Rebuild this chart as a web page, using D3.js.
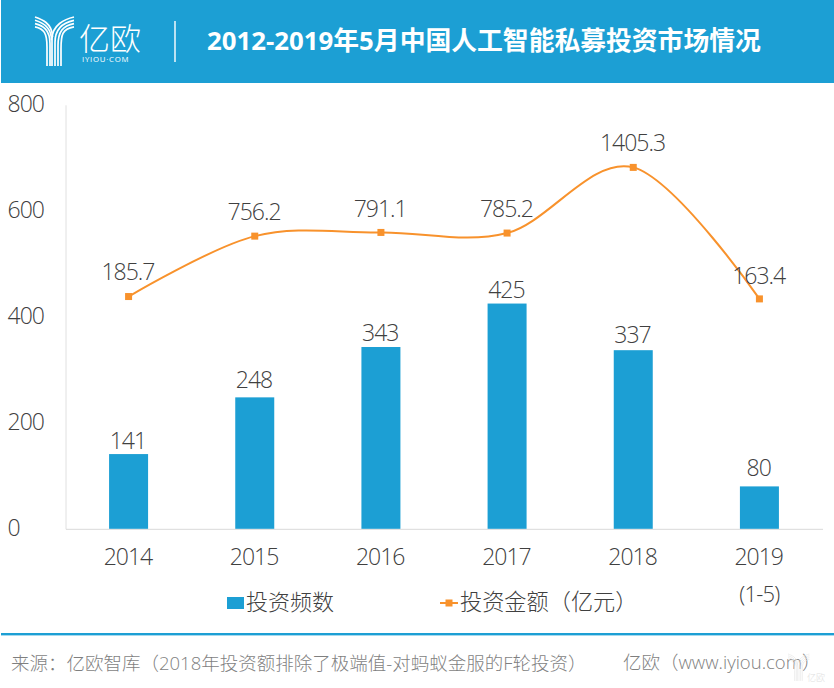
<!DOCTYPE html>
<html><head><meta charset="utf-8">
<script src="https://cdn.jsdelivr.net/npm/d3@7/dist/d3.min.js"></script>
<style>
html,body{margin:0;padding:0;background:#fff}
svg{display:block}
text{font-family:"Open Sans","Noto Sans CJK SC",sans-serif;font-weight:300;fill:#404040}
</style></head><body>
<svg id="c" width="834" height="688"></svg>
<script>
const categories=["2014","2015","2016","2017","2018","2019"];
const freqValues=[141,248,343,425,337,80];
const amountValues=[185.7,756.2,791.1,785.2,1405.3,163.4];
const yTicks=[0,200,400,600,800];
const titleText="2012-2019年5月中国人工智能私募投资市场情况";
const legendBar="投资频数";
const legendLine="投资金额（亿元）";
const sourceText="来源：亿欧智库（2018年投资额排除了极端值-对蚂蚁金服的F轮投资）";
const siteText="亿欧（www.iyiou.com）";
const BLUE="#1c9fd4",ORANGE="#f8922c";
const svg=d3.select("#c");

function yLogo(g,sx,ox,oy,color,w){
  const l=g.append("g").attr("fill","none").attr("stroke",color).attr("stroke-width",w)
    .attr("transform",`translate(${ox},${oy}) scale(${sx})`);
  const tops=[0,3.3,6.6,9.9], rightV=[17,20,23,26], leftV=[17.5,16.5,15,12];
  tops.forEach((t,i)=>{
    l.append("path").attr("d",`M39 ${t} C${30-i} ${t+2} ${rightV[i]} ${t+8} ${rightV[i]} ${t+22} L${rightV[i]} 49`);
    l.append("path").attr("d",`M0 ${t} C${6+i} ${t+2} ${leftV[i]} ${t+6} ${leftV[i]} ${t+20}`+(i>1?` L${leftV[i]} 49`:""));
  });
}

// header
svg.append("rect").attr("x",1).attr("y",0).attr("width",833).attr("height",83).attr("fill",BLUE);
yLogo(svg,1,35,17,"#fff",1.7);
svg.append("text").attr("x",79).attr("y",50).attr("font-size",31).style("fill","#fff").text("亿欧");
svg.append("text").attr("x",82).attr("y",62).attr("font-size",7.8).attr("letter-spacing",0.75).style("fill","#fff").style("font-weight",400).text("IYIOU·COM");
svg.append("line").attr("x1",175).attr("x2",175).attr("y1",21).attr("y2",62).attr("stroke","#fff").attr("stroke-width",1.4);
svg.append("text").attr("x",207).attr("y",49.5).attr("font-size",25.8).style("fill","#fff").style("font-weight",700).text(titleText);

// scales
const x=d3.scaleBand().domain(categories).range([65.5,822.5]);
const y=d3.scaleLinear().domain([0,800]).range([528.8,104.8]);
const y2=d3.scaleLinear().domain([0,1405.3]).range([316.2,167.4]);
const cx=c=>x(c)+x.bandwidth()/2;
const numStyle=s=>s.attr("font-size",23).attr("letter-spacing",-1);

// axes
const gy=svg.append("g").attr("transform","translate(65.5,0)").call(d3.axisLeft(y).tickValues(yTicks).tickSize(0));
gy.select(".domain").attr("stroke","#e0e0e0");
gy.selectAll("text").call(numStyle).attr("text-anchor","start").attr("x",-58).attr("dy","0.28em");
const gx=svg.append("g").attr("transform","translate(0,528.8)").call(d3.axisBottom(x).tickSize(0).tickPadding(20));
gx.select(".domain").attr("stroke","#d9d9d9");
gx.selectAll("text").call(numStyle).attr("dy","0.71em").attr("x",-0.7);
svg.append("text").attr("x",cx("2019")).attr("y",602).attr("text-anchor","middle").attr("font-size",22).attr("letter-spacing",-0.8).text("(1-5)");

// bars
const bw=39;
svg.append("g").selectAll("rect").data(categories).join("rect")
  .attr("x",c=>cx(c)-bw/2).attr("width",bw)
  .attr("y",(c,i)=>y(freqValues[i])).attr("height",(c,i)=>y(0)-y(freqValues[i])).attr("fill",BLUE);
const barGap=[5,9,6,6,7,10];
svg.append("g").selectAll("text").data(categories).join("text")
  .attr("x",c=>cx(c)-0.7).attr("y",(c,i)=>y(freqValues[i])-barGap[i]).attr("text-anchor","middle").call(numStyle)
  .text((c,i)=>freqValues[i]);

// line
const line=d3.line().x(d=>cx(d[0])).y(d=>y2(d[1])).curve(d3.curveCatmullRom.alpha(0));
svg.append("path").attr("d",line(categories.map((c,i)=>[c,amountValues[i]]))).attr("fill","none").attr("stroke",ORANGE).attr("stroke-width",2);
svg.append("g").selectAll("rect").data(categories).join("rect")
  .attr("x",c=>cx(c)-3.5).attr("width",7).attr("height",7)
  .attr("y",(c,i)=>y2(amountValues[i])-3.5).attr("fill",ORANGE);
const lineGap=[17,16,15,16,16,15];
svg.append("g").selectAll("text").data(categories).join("text")
  .attr("x",c=>cx(c)-0.7).attr("y",(c,i)=>y2(amountValues[i])-lineGap[i]).attr("text-anchor","middle").call(numStyle)
  .text((c,i)=>amountValues[i].toFixed(1));

// legend
svg.append("rect").attr("x",227).attr("y",597).attr("width",17).attr("height",12).attr("fill",BLUE);
svg.append("text").attr("x",246).attr("y",610).attr("font-size",22).text(legendBar);
svg.append("line").attr("x1",440).attr("x2",458).attr("y1",603).attr("y2",603).attr("stroke",ORANGE).attr("stroke-width",2);
svg.append("rect").attr("x",445.5).attr("y",599.5).attr("width",7).attr("height",7).attr("fill",ORANGE);
svg.append("text").attr("x",460).attr("y",610).attr("font-size",22.2).text(legendLine);

// footer
svg.append("rect").attr("x",1).attr("y",633).attr("width",833).attr("height",2).attr("fill",BLUE);
svg.append("rect").attr("x",1).attr("y",635).attr("width",833).attr("height",1).attr("fill","#a5d9ee");
svg.append("text").attr("x",11).attr("y",670).attr("font-size",18.5).style("fill","#7f7f7f").text(sourceText);
svg.append("text").attr("x",623).attr("y",669).attr("font-size",18.5).style("fill","#7f7f7f").text(siteText);
// watermark
yLogo(svg,0.55,788,654,"#e6e6e6",1.2);
svg.append("text").attr("x",807).attr("y",681).attr("font-size",9).style("fill","#e0e0e0").text("亿欧");
</script></body></html>
